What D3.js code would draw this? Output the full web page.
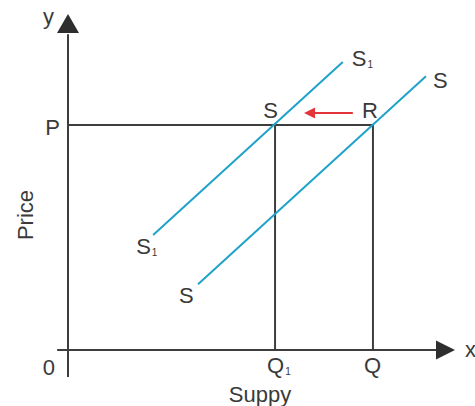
<!DOCTYPE html>
<html>
<head>
<meta charset="utf-8">
<script src="https://cdn.jsdelivr.net/npm/d3@7"></script>
<style>
  body { margin: 0; background: #fff; }
  text { font-family: "Liberation Sans", Arial, sans-serif; fill: #3a3a3a; }
</style>
</head>
<body>
<div id="chart"></div>
<script>
// supply shift diagram: price on y, supply on x

var width = 475, height = 406;

// curve names and end points [quantity, price]
var curveNames = ["S", "S"];
var curveSubs = ["1", ""];
var curveLow = [[2.2, 3.42], [3.36, 1.96]];
var curveHigh = [[7.1, 8.57], [9.25, 8.15]];

// price level P and quantities Q1, Q
var priceLevel = 6.7;
var qValues = [5.35, 7.88];
var qNames = ["Q", "Q"];
var qSubs = ["1", ""];

// points where the price line meets the curves
var pointNames = ["S", "R"];

// red shift arrow (from, to) at a price
var shiftFrom = 7.36, shiftTo = 6.1, shiftPrice = 7.05;

var x = d3.scaleLinear().domain([0, 10]).range([68, 455]);
var y = d3.scaleLinear().domain([0, 10]).range([350, 14]);

var ink = "#3d3d3d", blue = "#1fa2c9", red = "#e3343a";

var svg = d3.select("#chart").append("svg")
    .attr("width", width)
    .attr("height", height);

// axes
svg.append("line")
    .attr("x1", x(0)).attr("y1", y(-0.8))
    .attr("x2", x(0)).attr("y2", y(9.4))
    .attr("stroke", ink).attr("stroke-width", 2);
svg.append("line")
    .attr("x1", x(-0.28)).attr("y1", y(0))
    .attr("x2", x(9.6)).attr("y2", y(0))
    .attr("stroke", ink).attr("stroke-width", 2);

// axis arrow heads
svg.append("path")
    .attr("d", "M" + x(0) + "," + y(10) + "L" + (x(0) - 11) + "," + (y(10) + 19) + "L" + (x(0) + 11) + "," + (y(10) + 19) + "Z")
    .attr("fill", "#2e2e2e");
svg.append("path")
    .attr("d", "M" + x(10) + "," + y(0) + "L" + (x(10) - 19) + "," + (y(0) - 9.5) + "L" + (x(10) - 19) + "," + (y(0) + 9.5) + "Z")
    .attr("fill", "#2e2e2e");

// price line and quantity drop lines
svg.append("line")
    .attr("x1", x(0)).attr("y1", y(priceLevel))
    .attr("x2", x(qValues[1])).attr("y2", y(priceLevel))
    .attr("stroke", ink).attr("stroke-width", 2);

svg.selectAll(".drop")
    .data(qValues)
    .enter().append("line")
    .attr("class", "drop")
    .attr("x1", function(d) { return x(d); })
    .attr("x2", function(d) { return x(d); })
    .attr("y1", y(priceLevel))
    .attr("y2", y(0))
    .attr("stroke", ink).attr("stroke-width", 2);

// supply curves
svg.selectAll(".curve")
    .data(curveLow)
    .enter().append("line")
    .attr("class", "curve")
    .attr("x1", function(d) { return x(d[0]); })
    .attr("y1", function(d) { return y(d[1]); })
    .attr("x2", function(d, i) { return x(curveHigh[i][0]); })
    .attr("y2", function(d, i) { return y(curveHigh[i][1]); })
    .attr("stroke", blue).attr("stroke-width", 2);

// red arrow
svg.append("line")
    .attr("x1", x(shiftFrom)).attr("y1", y(shiftPrice))
    .attr("x2", x(shiftTo) + 8).attr("y2", y(shiftPrice))
    .attr("stroke", red).attr("stroke-width", 2);
svg.append("path")
    .attr("d", "M" + x(shiftTo) + "," + y(shiftPrice) + "L" + (x(shiftTo) + 11) + "," + (y(shiftPrice) - 5.5) + "L" + (x(shiftTo) + 11) + "," + (y(shiftPrice) + 5.5) + "Z")
    .attr("fill", red);

// helper for a letter with a small subscript
function label(px, py, main, sub, anchor) {
    var t = svg.append("text")
        .attr("x", px).attr("y", py)
        .attr("font-size", 22)
        .attr("text-anchor", anchor || "start");
    t.append("tspan").text(main);
    if (sub) {
        t.append("tspan").attr("font-size", 10).attr("dx", 1).attr("dy", 2).text(sub);
    }
    return t;
}

// curve end labels
curveNames.forEach(function(n, i) {
    var hi = curveHigh[i], lo = curveLow[i];
    label(x(hi[0]) + (i == 0 ? 9 : 7), y(hi[1]) + (i == 0 ? 4 : 12), n, curveSubs[i]);
    var lab = label(x(lo[0]) - (i == 0 ? 17 : 19), y(lo[1]) + 19, n, curveSubs[i]);
});

// intersection labels
pointNames.forEach(function(n, i) {
    label(x(qValues[i]) - (i == 0 ? 4.5 : 3), y(priceLevel) - 7, n, "", "middle");
});

// quantity labels
qNames.forEach(function(n, i) {
    label(x(qValues[i]) - (qSubs[i] ? 8 : 9), y(0) + 23, n, qSubs[i]);
});

// axis letters
label(x(0) - 8, y(priceLevel) + 10, "P", "", "end");
label(x(0) - 13, y(0) + 25, "0", "", "end");
label(x(0) - 14, 24, "y", "", "end");
label(x(10) + 10, y(0) + 7, "x", "");

// axis titles
svg.append("text")
    .attr("x", 260).attr("y", 402)
    .attr("font-size", 22)
    .attr("text-anchor", "middle")
    .text("Suppy");
svg.append("text")
    .attr("transform", "translate(33,215) rotate(-90)")
    .attr("font-size", 22)
    .attr("text-anchor", "middle")
    .text("Price");
</script>
</body>
</html>
